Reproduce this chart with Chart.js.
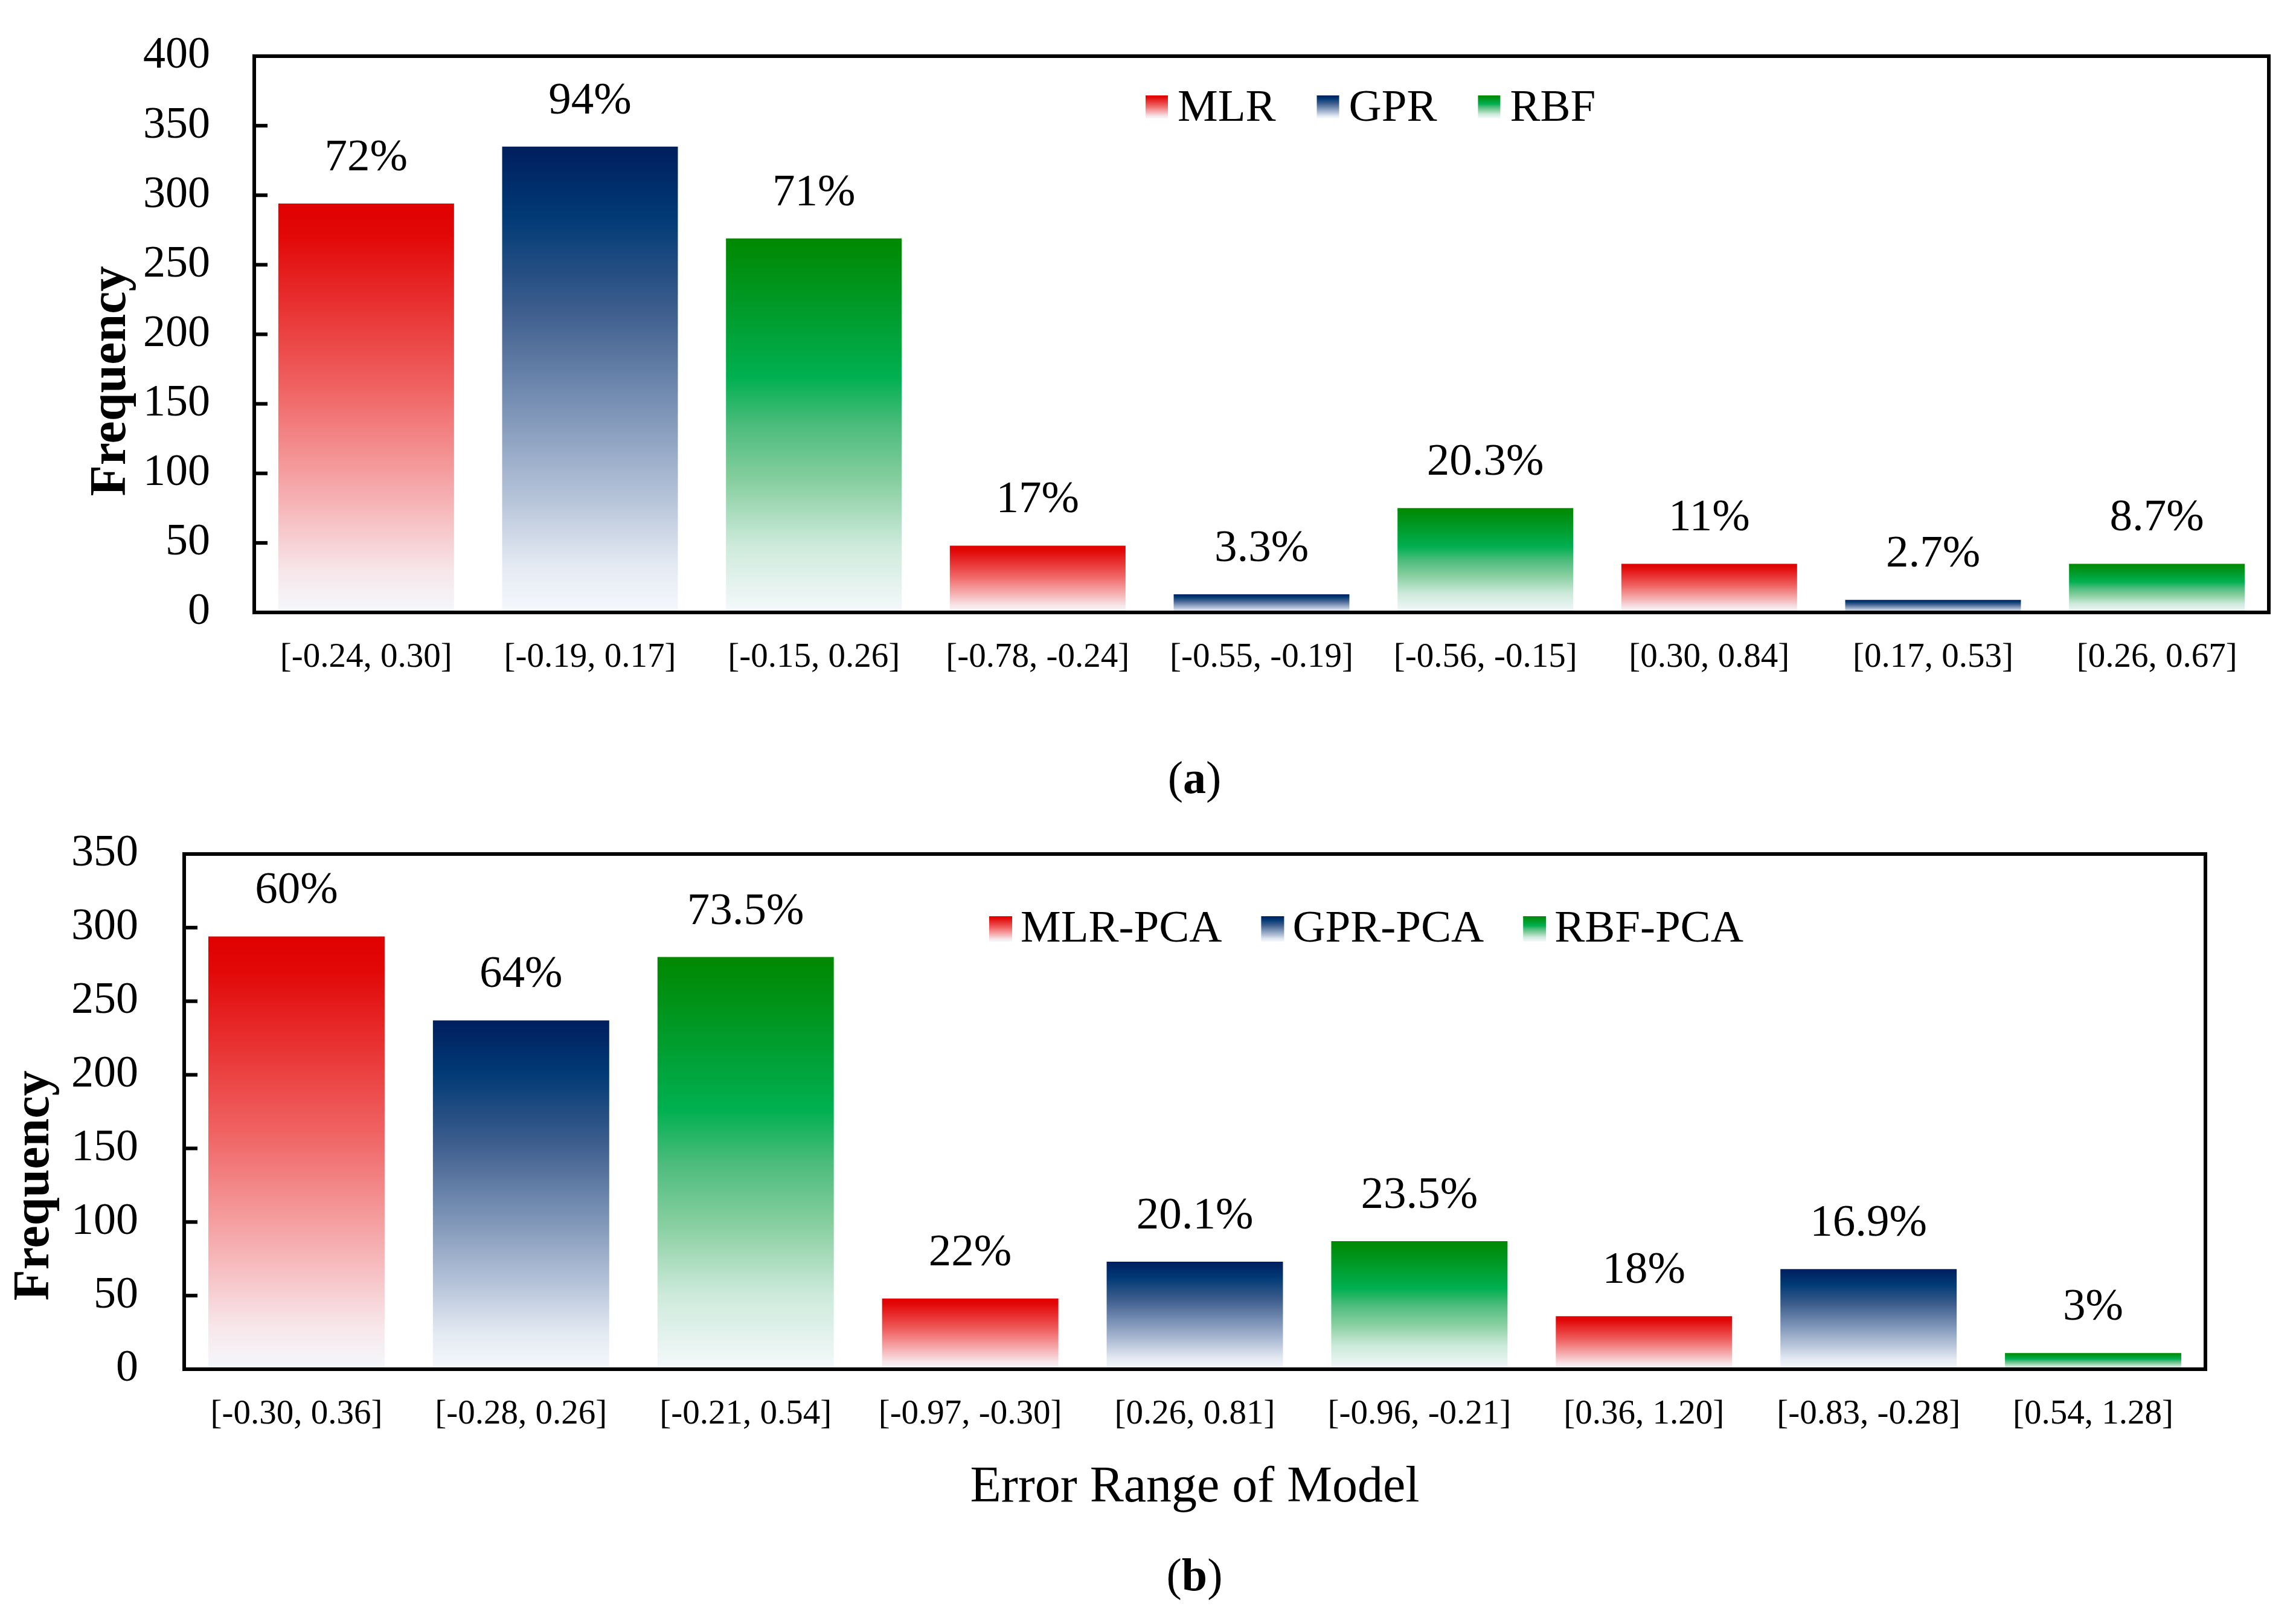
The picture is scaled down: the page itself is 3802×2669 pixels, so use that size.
<!DOCTYPE html>
<html>
<head>
<meta charset="utf-8">
<script src="https://cdn.jsdelivr.net/npm/chart.js@4.4.1/dist/chart.umd.min.js"></script>
<style>
  body { margin: 0; background: #fff; }
  #wrap { position: relative; width: 3802px; height: 2669px; }
  canvas { position: absolute; left: 0; }
  #chartA { top: 0; }
  #chartB { top: 1380px; }
</style>
</head>
<body>
<div id="wrap">
  <canvas id="chartA" width="3802" height="1380"></canvas>
  <canvas id="chartB" width="3802" height="1289"></canvas>
</div>
<script>
const categoriesA = ['[-0.24, 0.30]', '[-0.19, 0.17]', '[-0.15, 0.26]', '[-0.78, -0.24]', '[-0.55, -0.19]', '[-0.56, -0.15]', '[0.30, 0.84]', '[0.17, 0.53]', '[0.26, 0.67]'];
const valuesA = [294, 335, 269, 48, 13, 75, 35, 9, 35];
const percentA = ['72%', '94%', '71%', '17%', '3.3%', '20.3%', '11%', '2.7%', '8.7%'];
const modelsA = ['MLR', 'GPR', 'RBF'];

const categoriesB = ['[-0.30, 0.36]', '[-0.28, 0.26]', '[-0.21, 0.54]', '[-0.97, -0.30]', '[0.26, 0.81]', '[-0.96, -0.21]', '[0.36, 1.20]', '[-0.83, -0.28]', '[0.54, 1.28]'];
const valuesB = [294, 237, 280, 48, 73, 87, 36, 68, 11];
const percentB = ['60%', '64%', '73.5%', '22%', '20.1%', '23.5%', '18%', '16.9%', '3%'];
const modelsB = ['MLR-PCA', 'GPR-PCA', 'RBF-PCA'];

const FONT = "'Liberation Serif', 'Times New Roman', serif";

// gradient stops per model (top of bar -> bottom)
const STOPS = [
  [[0, '#e00000'], [0.08, '#e20808'], [0.45, '#f06262'], [0.72, '#f6b0b2'], [0.9, '#f7e6ea'], [1, '#f4f8fc']],
  [[0, '#001e5e'], [0.15, '#003a75'], [0.35, '#3d5d8d'], [0.55, '#7890b4'], [0.75, '#b4c2d8'], [0.9, '#e4eaf3'], [1, '#f5f8fc']],
  [[0, '#008800'], [0.18, '#009a28'], [0.37, '#00b050'], [0.5, '#4cbc7c'], [0.65, '#88cfa0'], [0.82, '#cdeadb'], [1, '#f5f9fc']]
];

function makeGradient(c, top, bottom, k) {
  const g = c.createLinearGradient(0, top, 0, bottom);
  STOPS[k].forEach(s => g.addColorStop(s[0], s[1]));
  return g;
}

function barFill(k) {
  return function (ctx) {
    const chart = ctx.chart;
    if (!chart.chartArea || ctx.raw == null) return STOPS[k][0][1];
    const y = chart.scales.y;
    return makeGradient(chart.ctx, y.getPixelForValue(ctx.raw), y.getPixelForValue(0), k);
  };
}

function buildDatasets(values, models) {
  return models.map((m, k) => ({
    label: m,
    data: values.map((v, i) => (i % 3 === k ? v : null)),
    backgroundColor: barFill(k),
    borderWidth: 0,
    grouped: false,
    categoryPercentage: 1,
    barPercentage: 0.785
  }));
}

// frame, inner ticks, percent labels, legend, y title and caption
const extrasPlugin = {
  id: 'extras',
  afterDatasetsDraw(chart, args, opts) {
    const c = chart.ctx;
    const area = chart.chartArea;
    const y = chart.scales.y;
    c.save();

    c.fillStyle = '#000';
    c.font = '75px ' + FONT;
    c.textAlign = 'center';
    c.textBaseline = 'alphabetic';
    chart.data.datasets.forEach((ds, k) => {
      const meta = chart.getDatasetMeta(k);
      meta.data.forEach((bar, i) => {
        if (ds.data[i] == null) return;
        c.fillText(opts.percents[i], bar.x, bar.y - 55);
      });
    });

    c.strokeStyle = '#000';
    c.lineWidth = 6;
    y.ticks.forEach(t => {
      const py = y.getPixelForValue(t.value);
      c.beginPath();
      c.moveTo(area.left, py);
      c.lineTo(area.left + 22, py);
      c.stroke();
    });
    c.strokeRect(area.left, area.top, area.right - area.left, area.bottom - area.top);

    // legend
    const lg = opts.legend;
    c.font = '75px ' + FONT;
    c.textAlign = 'left';
    let x = lg.x;
    chart.data.datasets.forEach((ds, k) => {
      c.fillStyle = makeGradient(c, lg.y, lg.y + lg.h, k);
      c.fillRect(x, lg.y, lg.w, lg.h);
      c.fillStyle = '#000';
      const tx = x + lg.w + lg.gap;
      c.fillText(ds.label, tx, lg.base);
      x = tx + c.measureText(ds.label).width + lg.step;
    });

    // y title
    c.save();
    c.translate(opts.yTitle.x, opts.yTitle.y);
    c.rotate(-Math.PI / 2);
    c.font = 'bold 84px ' + FONT;
    c.textAlign = 'center';
    c.fillText('Frequency', 0, 0);
    c.restore();

    // caption like "(a)"
    const cap = opts.caption;
    const parts = [['(', '76px '], [cap.letter, 'bold 76px '], [')', '76px ']];
    let total = 0;
    parts.forEach(p => { c.font = p[1] + FONT; total += c.measureText(p[0]).width; });
    let cx = cap.x - total / 2;
    c.textAlign = 'left';
    parts.forEach(p => {
      c.font = p[1] + FONT;
      c.fillText(p[0], cx, cap.base);
      cx += c.measureText(p[0]).width;
    });
    c.restore();
  }
};

function makeChart(id, cfg) {
  return new Chart(document.getElementById(id), {
    type: 'bar',
    data: { labels: cfg.labels, datasets: buildDatasets(cfg.values, cfg.models) },
    plugins: [extrasPlugin],
    options: {
      responsive: false,
      animation: false,
      devicePixelRatio: 1,
      layout: { padding: { left: 0, right: cfg.padRight, top: cfg.padTop, bottom: 0 } },
      plugins: {
        legend: { display: false },
        tooltip: { enabled: false },
        extras: { percents: cfg.percents, legend: cfg.legend, yTitle: cfg.yTitle, caption: cfg.caption }
      },
      scales: {
        x: {
          grid: { display: false },
          border: { display: false },
          ticks: { color: '#000', font: { family: FONT, size: 57 }, padding: 33, autoSkip: false, maxRotation: 0 },
          title: cfg.xTitle,
          afterFit(scale) {
            scale.height = cfg.xHeight;
            scale.paddingLeft = 0;
            scale.paddingRight = 0;
          }
        },
        y: {
          min: 0,
          max: cfg.yMax,
          grid: { display: false },
          border: { display: false },
          ticks: { stepSize: 50, color: '#000', font: { family: FONT, size: 74 }, padding: cfg.yPad },
          afterFit(scale) {
            scale.width = cfg.yWidth;
            scale.paddingTop = 0;
            scale.paddingBottom = 0;
          }
        }
      }
    }
  });
}

makeChart('chartA', {
  labels: categoriesA, values: valuesA, models: modelsA, percents: percentA,
  yMax: 400, yWidth: 421, yPad: 65, padTop: 93, padRight: 45, xHeight: 1380 - 1014,
  xTitle: { display: false },
  legend: { x: 1897, y: 158, w: 37, h: 38, gap: 16, step: 68, base: 200 },
  yTitle: { x: 207, y: 631 },
  caption: { letter: 'a', x: 1978, base: 1313 }
});

makeChart('chartB', {
  labels: categoriesB, values: valuesB, models: modelsB, percents: percentB,
  yMax: 350, yWidth: 305, yPad: 68, padTop: 34, padRight: 150, xHeight: 1289 - 887,
  xTitle: { display: true, text: 'Error Range of Model', color: '#000', font: { family: FONT, size: 84 }, padding: { top: 0, bottom: 155 } },
  legend: { x: 1638, y: 137, w: 38, h: 42, gap: 14, step: 65, base: 179 },
  yTitle: { x: 80, y: 583 },
  caption: { letter: 'b', x: 1978, base: 1253 }
});
</script>
</body>
</html>
